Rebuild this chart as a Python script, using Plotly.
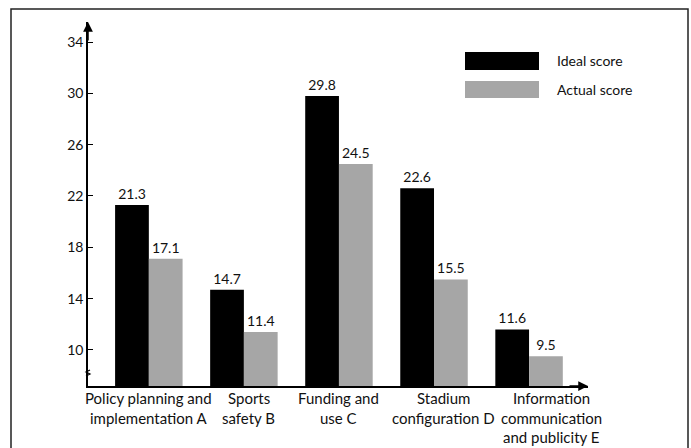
import plotly.graph_objects as go

categories = [
    "Policy planning and<br>implementation A",
    "Sports<br>safety B",
    "Funding and<br>use C",
    "Stadium<br>configuration D",
    "Information<br>communication<br>and publicity E",
]
ideal_score = [21.3, 14.7, 29.8, 22.6, 11.6]
actual_score = [17.1, 11.4, 24.5, 15.5, 9.5]
y_ticks = [10, 14, 18, 22, 26, 30, 34]
series_names = ["Ideal score", "Actual score"]
series_colors = ["#000000", "#a6a6a6"]
label_xshift = [0, 5, 0, 9, 22]   # horizontal nudges of category labels (px)

FONT = "Lato"
W, H = 691, 448
L, R, T, B = 88, 103, 22, 62
PW, PH = W - L - R, H - T - B


def px(x):
    return (x - L) / PW


def py(y):
    return (H - B - y) / PH


fig = go.Figure()
for name, vals, col in zip(series_names, [ideal_score, actual_score], series_colors):
    fig.add_trace(go.Bar(
        x=list(range(len(categories))), y=vals, name=name,
        marker=dict(color=col, line=dict(width=0)),
        text=[f"{v:.1f}" for v in vals], textposition="outside",
        textfont=dict(family=FONT, size=14, color="#111"),
        cliponaxis=False,
    ))

fig.update_layout(
    width=W, height=H,
    margin=dict(l=L, r=R, t=T, b=B, pad=0, autoexpand=False),
    paper_bgcolor="white", plot_bgcolor="white",
    barmode="group", bargap=0.29, bargroupgap=0,
    showlegend=False,
    font=dict(family=FONT, size=14, color="#111"),
    xaxis=dict(
        range=[-0.64, 4.62], tickmode="array",
        tickvals=list(range(len(categories))), showticklabels=False,
        automargin=False,
        showline=True, linecolor="black", linewidth=1.5,
        showgrid=False, zeroline=False, ticks="",
    ),
    yaxis=dict(
        range=[7.19, 35.56], tickmode="array", tickvals=y_ticks,
        automargin=False,
        showline=True, linecolor="black", linewidth=1.5,
        showgrid=False, zeroline=False,
        ticks="inside", ticklen=5, tickwidth=1, tickcolor="black",
        tickfont=dict(family=FONT, size=14, color="#111"),
    ),
)

# category labels (one annotation per text line for exact line spacing)
for i, (cat, dx) in enumerate(zip(categories, label_xshift)):
    for j, line in enumerate(cat.split("<br>")):
        fig.add_annotation(xref="x", yref="paper", x=i, y=0,
                           text=line, showarrow=False,
                           xanchor="center", yanchor="middle",
                           xshift=dx, yshift=-(12 + 19.5 * j),
                           font=dict(family=FONT, size=15, color="#111"))

# axis arrowheads
fig.add_annotation(xref="paper", yref="paper", x=0, y=1, ax=0, ay=20,
                   showarrow=True, arrowhead=2, arrowsize=1.3, arrowwidth=1.5,
                   arrowcolor="black", text="", standoff=0)
fig.add_annotation(xref="paper", yref="paper", x=1, y=0, ax=-20, ay=0,
                   showarrow=True, arrowhead=2, arrowsize=1.3, arrowwidth=1.5,
                   arrowcolor="black", text="", standoff=0)

# axis break mark
bx, by = L, 373
fig.add_shape(type="path", xref="paper", yref="paper",
              path=(f"M {px(bx-2)},{py(by+3)} L {px(bx+2)},{py(by+1)} "
                    f"L {px(bx-2)},{py(by-1)} L {px(bx+2)},{py(by-3)}"),
              line=dict(color="black", width=1.2))

# legend drawn manually
legend_rows = [(52, 70), (81, 98)]
for (y0, y1), name, col in zip(legend_rows, series_names, series_colors):
    fig.add_shape(type="rect", xref="paper", yref="paper",
                  x0=px(465), x1=px(539), y0=py(y1), y1=py(y0),
                  fillcolor=col, line=dict(width=0))
    fig.add_annotation(xref="paper", yref="paper", x=px(555), y=py((y0 + y1) / 2),
                       text=name, showarrow=False, xanchor="left", yanchor="middle",
                       font=dict(family=FONT, size=14, color="#111"))

# outer frame
fig.add_shape(type="rect", xref="paper", yref="paper",
              x0=px(11), x1=px(688), y0=py(452), y1=py(9),
              line=dict(color="#222", width=1.5), fillcolor="rgba(0,0,0,0)",
              layer="below")

fig.write_html("out.html")
